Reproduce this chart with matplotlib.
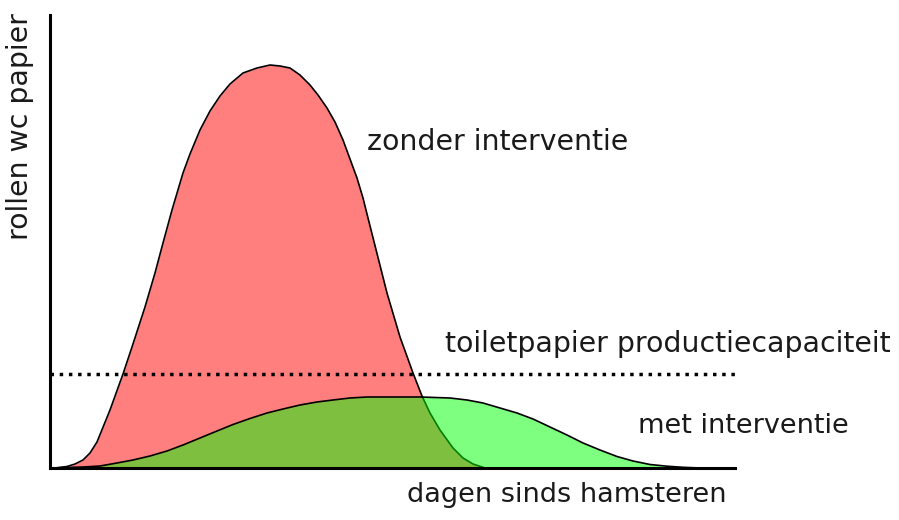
import matplotlib
matplotlib.use("Agg")
import matplotlib.pyplot as plt

# Curves (x: days, y: rolls, arbitrary units)
red_x = [5, 17, 25, 33, 40, 47, 60, 73, 82, 95, 105, 113, 122, 133, 140, 150,
         160, 170, 180, 193, 207, 220, 230, 240, 250, 260, 268, 277, 285, 293,
         300, 307, 313, 318, 337, 350, 363, 372, 380, 390, 403, 413, 423, 435]
red_y = [0, 1.5, 4, 8, 15, 26, 58, 94, 121, 161, 195, 225, 258, 295, 314, 338,
         357, 372, 384, 395, 400, 403, 402, 400, 393, 383, 373, 360, 346, 328,
         309, 290, 270, 250, 175, 131, 95, 72, 55, 38, 20, 10, 4, 0]

green_x = [2, 33, 50, 67, 83, 100, 117, 133, 150, 167, 183, 200, 217, 233, 250,
           267, 283, 300, 317, 335, 370, 400, 417, 433, 450, 467, 483, 500, 517,
           533, 550, 567, 583, 600, 617, 633, 650]
green_y = [0, 1, 2, 5, 8, 12, 17, 23, 30, 37, 43.5, 49.5, 55, 59, 63,
           66, 68, 70, 71, 71, 71, 70, 68, 65, 60, 55, 49, 41, 33,
           25, 18, 11.5, 7, 3.5, 1.8, 0.7, 0]

capacity = 94
x_max = 685
y_max = 453

fig = plt.figure(figsize=(8.99, 5.2), dpi=100)
ax = fig.add_axes([50 / 899, 52 / 520, 685 / 899, 453 / 520])

ax.fill_between(red_x, red_y, 0, color="#ff0000", alpha=0.5, linewidth=0)
ax.plot(red_x, red_y, color="black", lw=1.2, solid_joinstyle="round")
ax.fill_between(green_x, green_y, 0, color="#00ff00", alpha=0.5, linewidth=0, zorder=3)
ax.plot(green_x, green_y, color="black", lw=1.2, solid_joinstyle="round", zorder=3)

ax.plot([0, x_max], [capacity, capacity], color="black", lw=2.5,
        linestyle=":", dash_capstyle="butt", zorder=4)

ax.set_xlim(0, x_max)
ax.set_ylim(0, y_max)
ax.set_xticks([])
ax.set_yticks([])
for side in ("top", "right"):
    ax.spines[side].set_visible(False)
for side in ("left", "bottom"):
    ax.spines[side].set_linewidth(2.2)
    ax.spines[side].set_zorder(5)

tc = "#1a1a1a"
ax.text(317, 318, "zonder interventie", fontsize=20.4, color=tc, va="baseline")
ax.text(395, 116, "toiletpapier productiecapaciteit", fontsize=20.4, color=tc,
        va="baseline", clip_on=False)
ax.text(588, 35, "met interventie", fontsize=19.5, color=tc, va="baseline", clip_on=False)
ax.text(357, -34, "dagen sinds hamsteren", fontsize=19.5, color=tc, va="baseline",
        clip_on=False)
ax.text(-30, 455, "rollen wc papier", fontsize=20.4, color=tc, rotation=90,
        ha="center", va="top", clip_on=False)

fig.savefig("out.png", dpi=100)
